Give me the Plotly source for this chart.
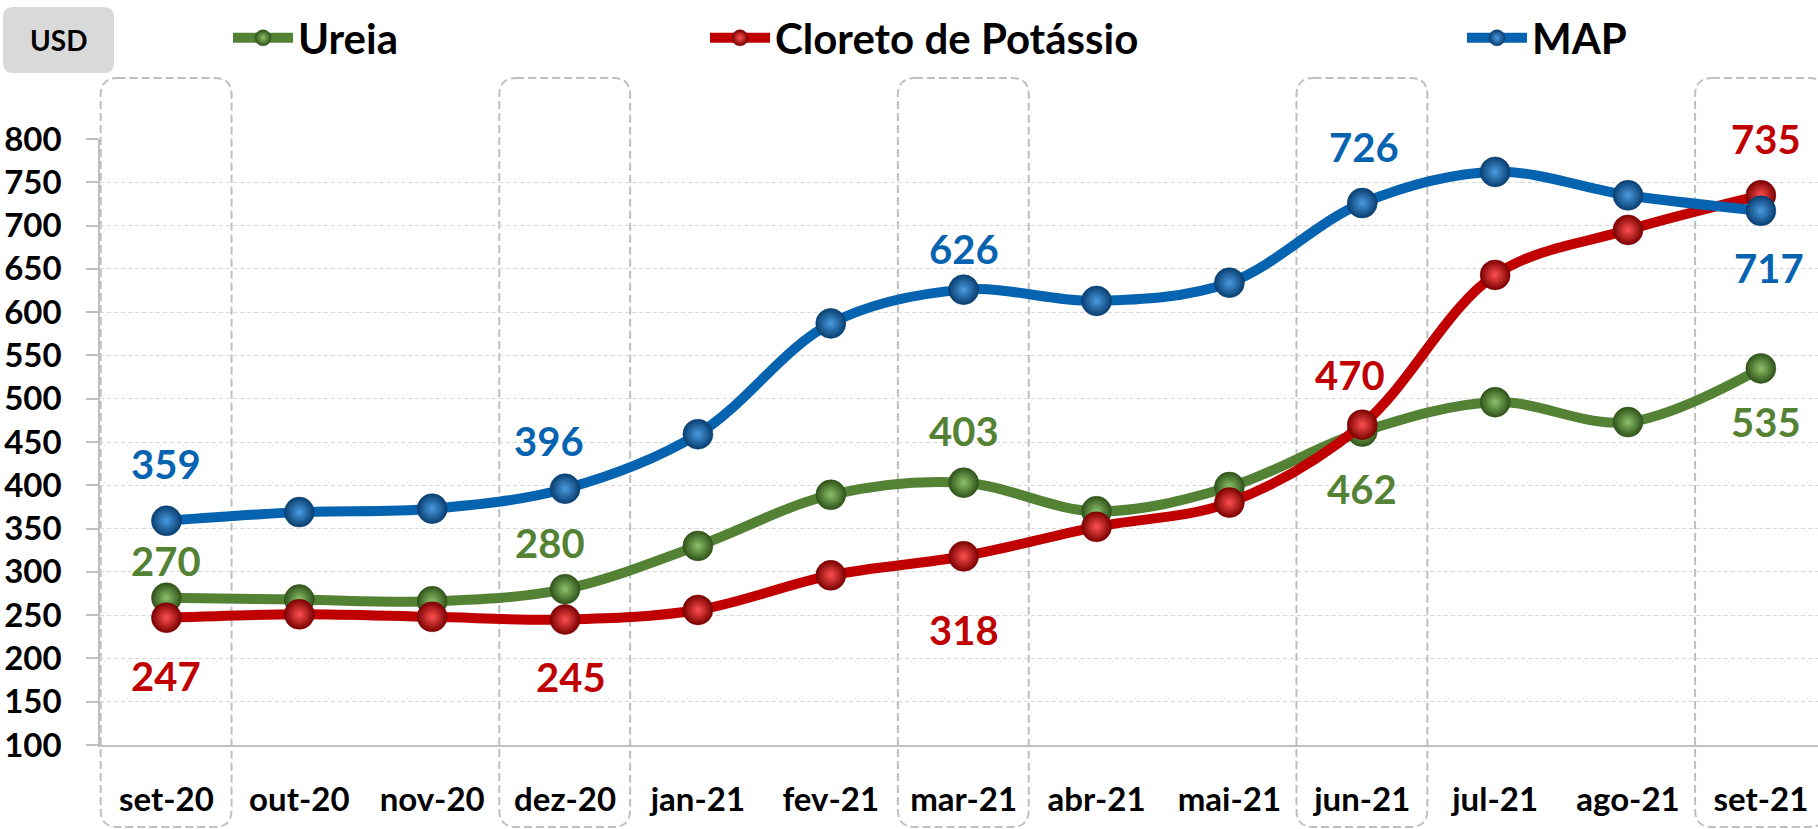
import plotly.graph_objects as go

# ---------------- data ----------------
categories = ["set-20", "out-20", "nov-20", "dez-20", "jan-21", "fev-21", "mar-21",
              "abr-21", "mai-21", "jun-21", "jul-21", "ago-21", "set-21"]
ureia = [270, 268, 266, 280, 330, 389, 403, 370, 398, 462, 496, 473, 535]
cloreto = [247, 251, 248, 245, 256, 296, 318, 352, 380, 470, 643, 695, 735]
map_vals = [359, 369, 373, 396, 459, 587, 626, 613, 634, 726, 762, 735, 717]
y_ticks = [100, 150, 200, 250, 300, 350, 400, 450, 500, 550, 600, 650, 700, 750, 800]
highlight_months = ["set-20", "dez-20", "mar-21", "jun-21", "set-21"]
unit_label = "USD"

# ---------------- layout constants ----------------
W, H = 1818, 829
ML, MR, MT, MB = 100, 0, 139, 84
X_RANGE = [-0.5, 12.43]
Y_RANGE = [100, 800]
FONT = "Lato"

def px_x(px):
    return (px - ML) / (W - ML - MR)

def px_y(py):
    return (H - MB - py) / (H - MT - MB)

def cat_x(v):
    return (v - X_RANGE[0]) / (X_RANGE[1] - X_RANGE[0])

def rrect(x0, x1, y0, y1, rx, ry):
    return (f"M{x0+rx},{y1} L{x1-rx},{y1} Q{x1},{y1} {x1},{y1-ry} "
            f"L{x1},{y0+ry} Q{x1},{y0} {x1-rx},{y0} L{x0+rx},{y0} "
            f"Q{x0},{y0} {x0},{y0+ry} L{x0},{y1-ry} Q{x0},{y1} {x0+rx},{y1} Z")

series = [
    dict(name="Ureia", key="Ureia", y=ureia, color="#548235",
         edge="#2f5219", light="#8cc26a", legend="legend"),
    dict(name="Cloreto de Potássio", key="Cloreto", y=cloreto, color="#C00000",
         edge="#7a0000", light="#ff5050", legend="legend2"),
    dict(name="MAP", key="MAP", y=map_vals, color="#0563AF",
         edge="#083e70", light="#4a9be0", legend="legend3"),
]

fig = go.Figure()
for s in series:
    fig.add_trace(go.Scatter(
        x=categories, y=s["y"], name=s["name"], legend=s["legend"],
        mode="lines+markers",
        line=dict(color=s["color"], width=10, shape="spline", smoothing=1.0),
        marker=dict(size=30, color=s["edge"],
                    gradient=dict(type="radial", color=s["light"]),
                    line=dict(width=0.5, color=s["edge"])),
        cliponaxis=False, hoverinfo="x+y",
    ))

# data labels (offsets in px; values come from the arrays)
label_spec = [
    ("MAP", "set-20", 0, 57), ("Ureia", "set-20", 0, 37), ("Cloreto", "set-20", 0, -58),
    ("MAP", "dez-20", -16, 48), ("Ureia", "dez-20", -15, 46), ("Cloreto", "dez-20", 6, -58),
    ("MAP", "mar-21", 0, 41), ("Ureia", "mar-21", 0, 52), ("Cloreto", "mar-21", 0, -74),
    ("MAP", "jun-21", 2, 56), ("Cloreto", "jun-21", -12, 50), ("Ureia", "jun-21", 0, -57),
    ("Cloreto", "set-21", 5, 56), ("MAP", "set-21", 8, -57), ("Ureia", "set-21", 5, -54),
]
by_key = {s["key"]: s for s in series}
annotations = []
for key, month, dx, dy in label_spec:
    s = by_key[key]
    i = categories.index(month)
    annotations.append(dict(
        x=month, y=s["y"][i], xref="x", yref="y", text=str(s["y"][i]),
        showarrow=False, xshift=dx, yshift=dy, xanchor="center", yanchor="middle",
        font=dict(family=FONT, size=40, color=s["color"], weight=700)))

annotations.append(dict(
    x=px_x(58), y=px_y(40), xref="paper", yref="paper", text=unit_label,
    showarrow=False, xanchor="center", yanchor="middle",
    font=dict(family=FONT, size=28, color="#000000", weight=700)))

shapes = []
# USD box
shapes.append(dict(type="path", xref="paper", yref="paper",
                   path=rrect(px_x(3), px_x(114), px_y(73), px_y(7),
                              10 / (W - ML - MR), 10 / (H - MT - MB)),
                   fillcolor="#d9d9d9", line=dict(width=0), layer="below"))
# highlighted month boxes
for m in highlight_months:
    i = categories.index(m)
    shapes.append(dict(type="path", xref="paper", yref="paper",
                       path=rrect(cat_x(i - 0.495), cat_x(i + 0.49), px_y(827), px_y(78),
                                  17 / (W - ML - MR), 17 / (H - MT - MB)),
                       line=dict(color="#bfbfbf", width=2, dash="8px,4px"),
                       fillcolor="rgba(0,0,0,0)", layer="below"))

legend_common = dict(orientation="h", yanchor="middle", y=px_y(38), xanchor="left",
                     bgcolor="rgba(0,0,0,0)", borderwidth=0, itemwidth=60,
                     font=dict(family=FONT, size=42, color="#000000", weight=700))
legend_text_starts = [298, 775, 1532]

fig.update_layout(
    width=W, height=H, margin=dict(l=ML, r=MR, t=MT, b=MB, pad=0, autoexpand=False),
    paper_bgcolor="white", plot_bgcolor="white",
    font=dict(family=FONT, color="#000000"),
    showlegend=True,
    legend=dict(legend_common, x=px_x(legend_text_starts[0] - 70)),
    legend2=dict(legend_common, x=px_x(legend_text_starts[1] - 70)),
    legend3=dict(legend_common, x=px_x(legend_text_starts[2] - 70)),
    annotations=annotations, shapes=shapes,
    xaxis=dict(type="category", categoryorder="array", categoryarray=categories,
               range=X_RANGE, showgrid=False, showline=True, linecolor="#bfbfbf",
               linewidth=1.5, ticks="outside", ticklen=25, tickcolor="rgba(0,0,0,0)",
               tickfont=dict(family=FONT, size=33, color="#000000", weight=700),
               fixedrange=True, zeroline=False),
    yaxis=dict(range=Y_RANGE, tickvals=y_ticks, showgrid=True, gridcolor="#d9d9d9",
               gridwidth=1, griddash="4px,3px", showline=True, linecolor="#bfbfbf",
               linewidth=1.5, ticks="outside", ticklen=12, tickcolor="#bfbfbf",
               tickwidth=1.5, ticklabelstandoff=18,
               tickfont=dict(family=FONT, size=33, color="#000000", weight=700),
               zeroline=False, fixedrange=True),
)

fig.write_html("out.html", config={"displayModeBar": False},
               post_script="document.body.style.margin='0px';")
